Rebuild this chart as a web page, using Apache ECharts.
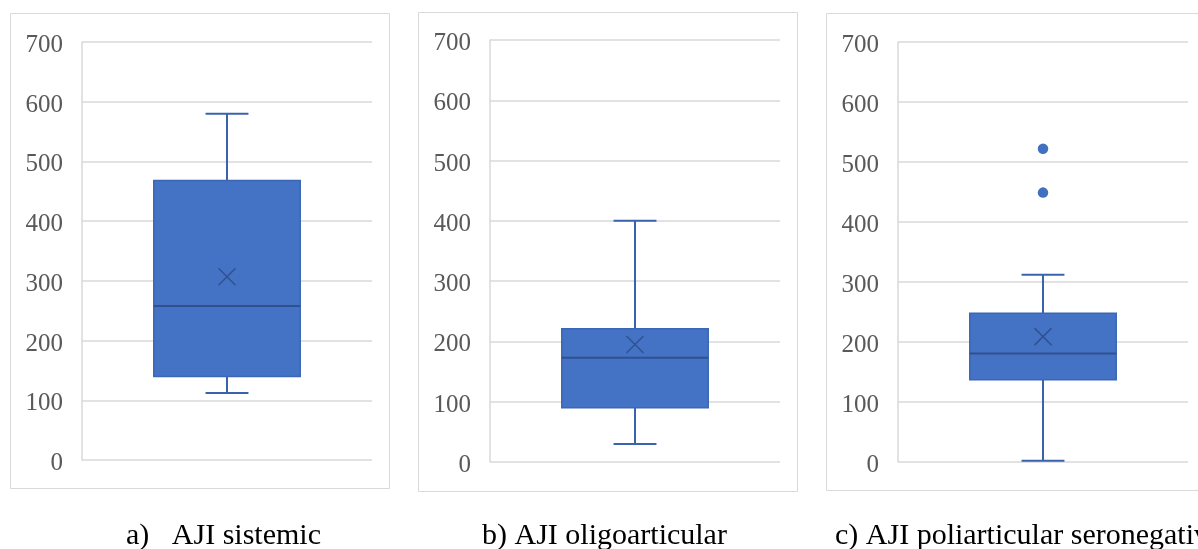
<!DOCTYPE html>
<html>
<head>
<meta charset="utf-8">
<script src="https://cdn.jsdelivr.net/npm/echarts@6/dist/echarts.min.js"></script>
<style>html,body{margin:0;padding:0;background:#fff}#c{width:1198px;height:549px}</style>
</head>
<body>
<div id="c"></div>
<script>
// ---- data ----
const categories = ['AJI sistemic', 'AJI oligoarticular', 'AJI poliarticular seronegativă'];
const captions = ['a)   AJI sistemic', 'b) AJI oligoarticular', 'c) AJI poliarticular seronegativă'];
const minValues = [112, 30, 2];
const q1Values = [140, 90, 137];
const medianValues = [258, 173, 181];
const q3Values = [468, 221, 248];
const maxValues = [580, 400, 312];
const meanValues = [307, 195, 209];
const outlierValues = [[], [], [522, 449]];
const yMin = 0, yMax = 700, yInterval = 100;

// ---- layout ----
const grids = [
  {left: 82, top: 42, width: 290, height: 418},
  {left: 490, top: 40, width: 290, height: 422},
  {left: 898, top: 42, width: 290, height: 420}
];
const frames = [
  {x: 10.5, y: 13.5, width: 379, height: 475},
  {x: 418.5, y: 12.5, width: 379, height: 479},
  {x: 826.5, y: 13.5, width: 379, height: 477}
];
const captionPos = [[126, 536], [482, 536], [835, 536]];

const BOX = '#4472C4', EDGE = '#3A63AD', DARK = '#2F528F';
const serif = "'Liberation Serif', 'Times New Roman', serif";

function renderBox(params, api) {
  const x = api.value(0);
  const band = api.size([1, 0])[0];
  const bw = band * 0.505, cap = band * 0.148;
  const pMin = api.coord([x, api.value(1)]);
  const pQ1 = api.coord([x, api.value(2)]);
  const pMed = api.coord([x, api.value(3)]);
  const pQ3 = api.coord([x, api.value(4)]);
  const pMax = api.coord([x, api.value(5)]);
  const pMean = api.coord([x, api.value(6)]);
  const cx = pMed[0];
  const ls = {stroke: EDGE, lineWidth: 2};
  const xs = 8.5;
  return {
    type: 'group',
    children: [
      {type: 'line', shape: {x1: cx, y1: pMax[1], x2: cx, y2: pQ3[1]}, style: ls},
      {type: 'line', shape: {x1: cx, y1: pQ1[1], x2: cx, y2: pMin[1]}, style: ls},
      {type: 'line', shape: {x1: cx - cap / 2, y1: pMax[1], x2: cx + cap / 2, y2: pMax[1]}, style: ls},
      {type: 'line', shape: {x1: cx - cap / 2, y1: pMin[1], x2: cx + cap / 2, y2: pMin[1]}, style: ls},
      {type: 'rect', shape: {x: cx - bw / 2, y: pQ3[1], width: bw, height: pQ1[1] - pQ3[1]},
        style: {fill: BOX, stroke: '#3B66B5', lineWidth: 1.5}},
      {type: 'line', shape: {x1: cx - bw / 2, y1: pMed[1], x2: cx + bw / 2, y2: pMed[1]},
        style: {stroke: DARK, lineWidth: 2}},
      {type: 'line', shape: {x1: cx - xs, y1: pMean[1] - xs, x2: cx + xs, y2: pMean[1] + xs},
        style: {stroke: DARK, lineWidth: 1.5}},
      {type: 'line', shape: {x1: cx - xs, y1: pMean[1] + xs, x2: cx + xs, y2: pMean[1] - xs},
        style: {stroke: DARK, lineWidth: 1.5}}
    ]
  };
}

const xAxis = [], yAxis = [], series = [], graphic = [];
for (let i = 0; i < 3; i++) {
  xAxis.push({
    type: 'category', gridIndex: i, data: [categories[i]],
    axisLine: {show: false}, axisTick: {show: false}, axisLabel: {show: false}, splitLine: {show: false}
  });
  yAxis.push({
    type: 'value', gridIndex: i, min: yMin, max: yMax, interval: yInterval,
    axisLine: {show: true, lineStyle: {color: '#D9D9D9', width: 1.5}},
    axisTick: {show: false},
    axisLabel: {
      margin: 19,
      formatter: v => '{t|' + v + '}',
      rich: {t: {color: '#595959', fontFamily: serif, fontSize: 25, padding: [7, 0, 0, 0]}}
    },
    splitLine: {show: true, lineStyle: {color: '#D9D9D9', width: 1.5}}
  });
  series.push({
    type: 'custom', xAxisIndex: i, yAxisIndex: i,
    renderItem: renderBox,
    encode: {x: 0, y: [1, 2, 3, 4, 5, 6]},
    data: [[0, minValues[i], q1Values[i], medianValues[i], q3Values[i], maxValues[i], meanValues[i]]],
    z: 3
  });
  if (outlierValues[i].length) {
    series.push({
      type: 'scatter', xAxisIndex: i, yAxisIndex: i,
      symbol: 'circle', symbolSize: 10.5,
      itemStyle: {color: '#4270C0', opacity: 1},
      data: outlierValues[i].map(v => [0, v]), z: 4
    });
  }
  graphic.push({
    type: 'rect', shape: frames[i], silent: true,
    style: {fill: 'none', stroke: '#D9D9D9', lineWidth: 1}
  });
  graphic.push({
    type: 'text', x: captionPos[i][0], y: captionPos[i][1], silent: true,
    style: {text: captions[i], font: '30px ' + serif, fill: '#000', verticalAlign: 'middle', align: 'left'}
  });
}

const chart = echarts.init(document.getElementById('c'), null, {renderer: 'canvas'});
chart.setOption({
  animation: false,
  backgroundColor: '#fff',
  grid: grids,
  xAxis, yAxis, series, graphic
});
</script>
</body>
</html>
